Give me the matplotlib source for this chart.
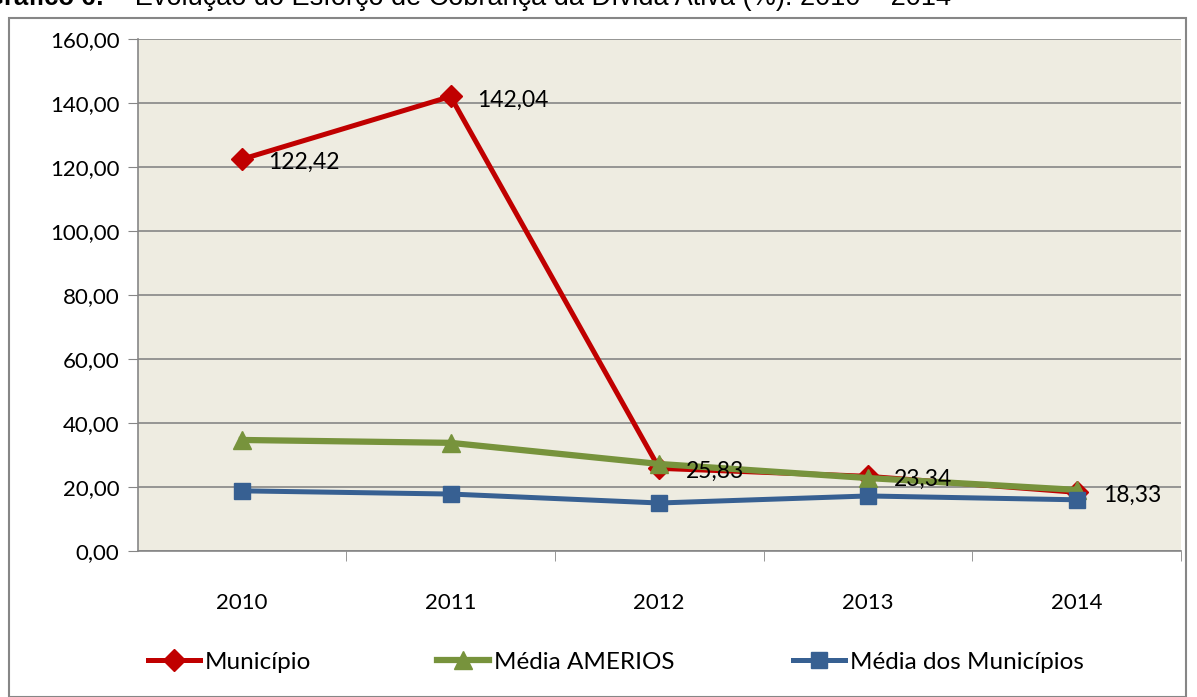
import matplotlib
matplotlib.use("Agg")
import matplotlib.pyplot as plt
from matplotlib.patches import Rectangle
from matplotlib.ticker import FuncFormatter

plt.rcParams['font.family'] = ['Lato', 'DejaVu Sans']

# dados
anos = ['2010', '2011', '2012', '2013', '2014']
municipio = [122.42, 142.04, 25.83, 23.34, 18.33]
media_amerios = [34.7, 33.8, 27.2, 22.8, 19.1]
media_municipios = [18.8, 17.8, 15.0, 17.2, 16.0]
rotulos = ['122,42', '142,04', '25,83', '23,34', '18,33']

W, H = 1197, 697
fig = plt.figure(figsize=(W / 100, H / 100), dpi=100)

# moldura do grafico
fig.patches.append(Rectangle((9 / W, 0), (1186 - 9) / W, 1 - 18 / H,
                             transform=fig.transFigure, fill=False,
                             edgecolor='#868686', linewidth=1.5))

# titulo (cortado no topo, como no original)
fig.text(-16 / W, 1 - 5 / H, 'Gráfico 6:', fontsize=18.5, fontweight='bold',
         family='Liberation Sans', va='baseline', ha='left')
fig.text(112 / W, 1 - 5 / H,
         '– Evolução do Esforço de Cobrança da Dívida Ativa (%): 2010 – 2014',
         fontsize=19.5, family='Liberation Sans', va='baseline', ha='left')

ax = fig.add_axes([137.5 / W, 1 - 551 / H, (1181 - 137.5) / W, (551 - 39) / H])
ax.set_facecolor('#EEECE1')

x = list(range(1, len(anos) + 1))
l1, = ax.plot(x, municipio, color='#C00000', linewidth=3.6, marker='D',
              markersize=11, label='Município', zorder=3)
l2, = ax.plot(x, media_amerios, color='#77933C', linewidth=4.5, marker='^',
              markersize=13, label='Média AMERIOS', zorder=4)
l3, = ax.plot(x, media_municipios, color='#376092', linewidth=3.6, marker='s',
              markersize=12, label='Média dos Municípios', zorder=5)

for xi, yi, txt in zip(x, municipio, rotulos):
    ax.annotate(txt, (xi, yi), xytext=(19, -2.5), textcoords='offset points',
                ha='left', va='center', fontsize=16.5, zorder=6)

ax.set_xlim(0.5, 5.5)
ax.set_ylim(0, 160)
ax.set_yticks(range(0, 161, 20))
ax.yaxis.set_major_formatter(FuncFormatter(lambda v, p: f'{v:.2f}'.replace('.', ',')))
ax.set_xticks(x)
ax.set_xticklabels(anos)
ax.set_xticks([1.5, 2.5, 3.5, 4.5, 5.5], minor=True)
ax.tick_params(axis='x', which='major', length=0, pad=30, labelsize=16)
ax.tick_params(axis='x', which='minor', length=7, color='#868686')
ax.tick_params(axis='y', length=7, color='#868686', labelsize=16, pad=6)

ax.grid(axis='y', color='#868686', linewidth=1.2)
ax.set_axisbelow(True)
for s in ['top', 'right']:
    ax.spines[s].set_visible(False)
for s in ['left', 'bottom']:
    ax.spines[s].set_color('#868686')
    ax.spines[s].set_linewidth(1.2)

# legenda: uma entrada por posicao
for h, x0 in zip([l1, l2, l3], [148, 437, 793]):
    fig.legend(handles=[h], loc='center left',
               bbox_to_anchor=(x0 / W, 1 - 662 / H), frameon=False,
               fontsize=17.5, handlelength=2.15, handletextpad=0.2,
               borderpad=0, borderaxespad=0)

fig.savefig('out.png', dpi=100)
